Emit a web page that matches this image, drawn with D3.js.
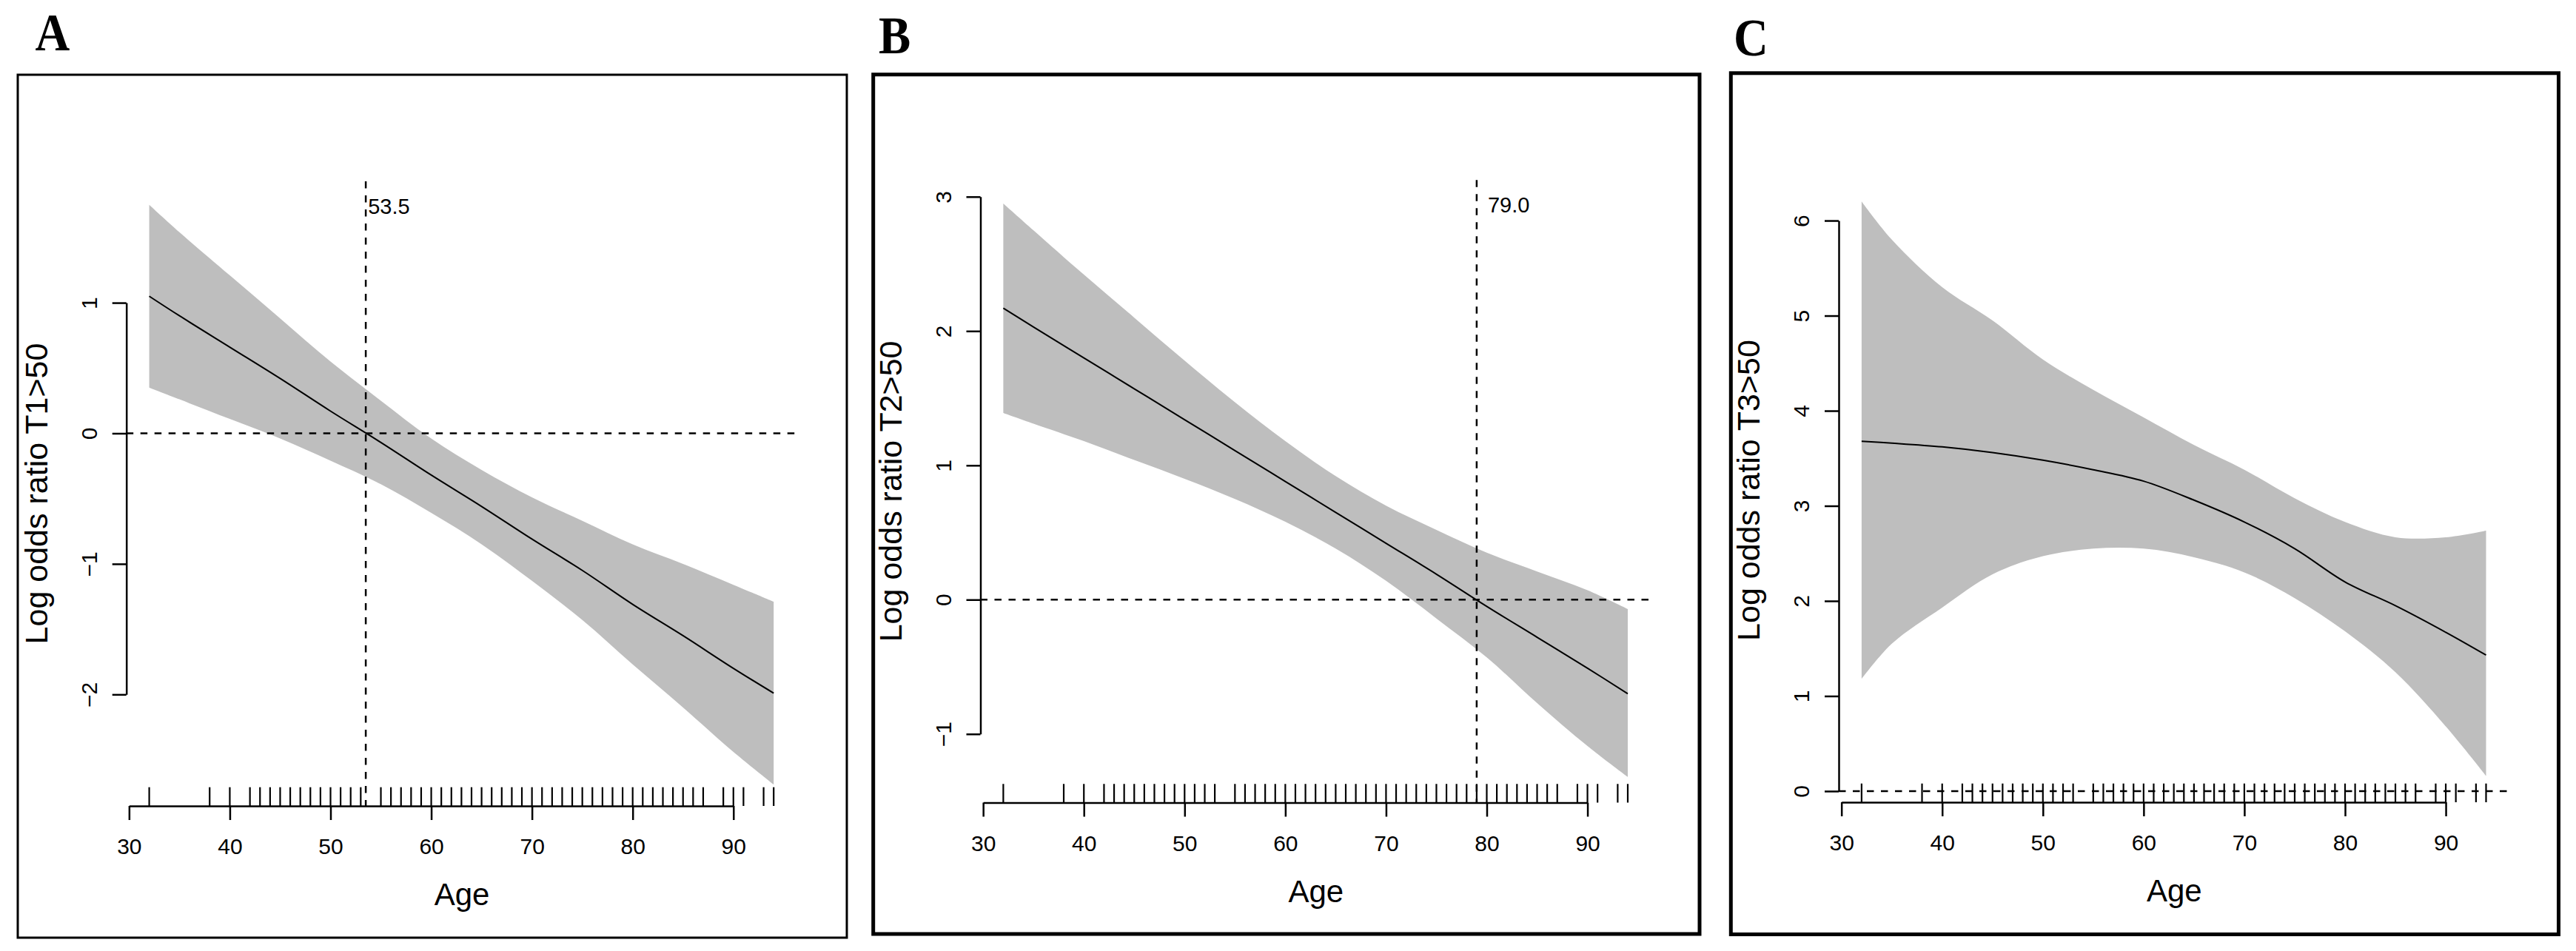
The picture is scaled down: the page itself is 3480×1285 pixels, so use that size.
<!DOCTYPE html>
<html>
<head>
<meta charset="utf-8">
<script src="https://cdn.jsdelivr.net/npm/d3@7"></script>
<style>
  body { margin: 0; background: #fff; }
  svg text { font-family: "Liberation Sans", Arial, sans-serif; fill: #000; }
  .panelLetter { font-family: "Liberation Serif", "Times New Roman", serif; font-weight: bold; }
</style>
</head>
<body>
<svg id="chart" width="3480" height="1285"></svg>
<script>
const ages = [32, 35, 40, 45, 50, 55, 60, 65, 70, 75, 80, 85, 90, 94];

// A: log odds ratio T1>50
const fitT1   = [1.05, 0.90, 0.66, 0.42, 0.17, -0.07, -0.32, -0.56, -0.81, -1.05, -1.31, -1.55, -1.80, -1.99];
const upperT1 = [1.75, 1.54, 1.21, 0.88, 0.55, 0.25, -0.04, -0.28, -0.49, -0.67, -0.85, -1.00, -1.16, -1.29];
const lowerT1 = [0.35, 0.26, 0.11, -0.04, -0.21, -0.39, -0.61, -0.85, -1.13, -1.43, -1.77, -2.10, -2.44, -2.69];

// B: log odds ratio T2>50
const fitT2   = [2.17, 2.03, 1.80, 1.57, 1.34, 1.11, 0.88, 0.65, 0.42, 0.19, -0.05, -0.28, -0.51, -0.70];
const upperT2 = [2.95, 2.75, 2.42, 2.10, 1.78, 1.47, 1.18, 0.92, 0.70, 0.52, 0.35, 0.21, 0.07, -0.07];
const lowerT2 = [1.39, 1.31, 1.18, 1.04, 0.90, 0.75, 0.58, 0.38, 0.14, -0.14, -0.43, -0.77, -1.09, -1.32];

// C: log odds ratio T3>50
const fitT3   = [3.68, 3.66, 3.62, 3.56, 3.48, 3.38, 3.26, 3.06, 2.83, 2.55, 2.20, 1.95, 1.67, 1.43];
const upperT3 = [6.20, 5.80, 5.30, 4.95, 4.54, 4.22, 3.93, 3.64, 3.38, 3.08, 2.83, 2.67, 2.67, 2.74];
const lowerT3 = [1.18, 1.55, 1.93, 2.28, 2.47, 2.55, 2.55, 2.46, 2.30, 2.03, 1.68, 1.25, 0.68, 0.16];

// observed ages (rug)
const rugAges = [32, 38, 40, 42, 43, 44, 45, 46, 47, 48, 49, 50, 51, 52, 53,
  55, 56, 57, 58, 59, 60, 61, 62, 63, 64, 65, 66, 67, 68, 69, 70, 71, 72, 73, 74,
  75, 76, 77, 78, 79, 80, 81, 82, 83, 84, 85, 86, 87, 89, 90, 91, 93, 94];

const xTicks = [30, 40, 50, 60, 70, 80, 90];
const yTicksT1 = [-2, -1, 0, 1];
const yTicksT2 = [-1, 0, 1, 2, 3];
const yTicksT3 = [0, 1, 2, 3, 4, 5, 6];

const cutT1 = 53.5;
const cutT2 = 79.0;

// layout (pixels)
const xLim = [29.73, 96.36];
const plotWidth = 906.6;

const panels = [
  {letter: "A", title: "Log odds ratio T1>50", fit: fitT1, upper: upperT1, lower: lowerT1,
   yTicks: yTicksT1, cut: cutT1, cutDx: 3, cutY: 289,
   box: [24, 101, 1144, 1267], border: 3, left: 170.7, top: 245, bottom: 1089,
   yLim: [-2.854, 1.930], letterAt: [47.5, 68]},
  {letter: "B", title: "Log odds ratio T2>50", fit: fitT2, upper: upperT2, lower: lowerT2,
   yTicks: yTicksT2, cut: cutT2, cutDx: 15, cutY: 287,
   box: [1179.7, 100.7, 2296, 1262], border: 5, left: 1324.5, top: 243.3, bottom: 1084.5,
   yLim: [-1.511, 3.124], letterAt: [1187, 71.5]},
  {letter: "C", title: "Log odds ratio T3>50", fit: fitT3, upper: upperT3, lower: lowerT3,
   yTicks: yTicksT3, cut: null,
   box: [2338.3, 98.8, 3456.5, 1262.5], border: 5, left: 2484, top: 241, bottom: 1084,
   yLim: [-0.117, 6.444], letterAt: [2342, 75]}
];

const svg = d3.select("#chart");
const smooth = d3.curveCatmullRom.alpha(0.5);

function styleAxis(sel) {
  sel.attr("font-family", null).attr("font-size", null);
  sel.select(".domain").attr("stroke", "#000").attr("stroke-width", 2.5);
  sel.selectAll(".tick line").attr("stroke", "#000").attr("stroke-width", 2.5);
  sel.selectAll(".tick text").attr("font-size", 30).attr("fill", "#000");
}

function drawPanel(p) {
  let g = svg.append("g");

  let x = d3.scaleLinear().domain(xLim).range([p.left, p.left + plotWidth]);
  let y = d3.scaleLinear().domain(p.yLim).range([p.bottom, p.top]);

  let rows = ages.map((a, i) => ({age: a, fit: p.fit[i], lo: p.lower[i], hi: p.upper[i]}));

  // confidence band
  g.append("path")
    .datum(rows)
    .attr("d", d3.area().x(d => x(d.age)).y0(d => y(d.lo)).y1(d => y(d.hi)).curve(smooth))
    .attr("fill", "#bebebe");

  // fitted curve
  g.append("path")
    .datum(rows)
    .attr("d", d3.line().x(d => x(d.age)).y(d => y(d.fit)).curve(smooth))
    .attr("fill", "none")
    .attr("stroke", "#000")
    .attr("stroke-width", 2);

  // reference line at 0
  g.append("line")
    .attr("x1", p.left).attr("x2", p.left + plotWidth)
    .attr("y1", y(0)).attr("y2", y(0))
    .attr("stroke", "#000").attr("stroke-width", 2.5)
    .attr("stroke-dasharray", "9.5,9.5");

  // cut-off age
  if (p.cut != null) {
    g.append("line")
      .attr("x1", x(p.cut)).attr("x2", x(p.cut))
      .attr("y1", p.top).attr("y2", p.bottom)
      .attr("stroke", "#000").attr("stroke-width", 2.5)
      .attr("stroke-dasharray", "9.5,9.5");
    g.append("text")
      .attr("x", x(p.cut) + p.cutDx)
      .attr("y", p.cutY)
      .attr("font-size", 29)
      .text(d3.format(".1f")(p.cut));
  }

  // rug
  let rugLen = 0.03 * (p.bottom - p.top);
  g.selectAll("line.rug")
    .data(rugAges)
    .join("line")
    .attr("class", "rug")
    .attr("x1", d => x(d)).attr("x2", d => x(d))
    .attr("y1", p.bottom).attr("y2", p.bottom - rugLen)
    .attr("stroke", "#000").attr("stroke-width", 2.2);

  // x axis (spans first to last tick, like base R)
  let xa = d3.scaleLinear().domain([30, 90]).range([x(30), x(90)]);
  g.append("g")
    .attr("transform", `translate(0,${p.bottom})`)
    .call(d3.axisBottom(xa).tickValues(xTicks).tickSize(19).tickSizeOuter(0).tickPadding(25).tickFormat(d3.format("d")))
    .call(styleAxis);

  // y axis
  let yMin = d3.min(p.yTicks), yMax = d3.max(p.yTicks);
  let ya = d3.scaleLinear().domain([yMin, yMax]).range([y(yMin), y(yMax)]);
  g.append("g")
    .attr("transform", `translate(${p.left},0)`)
    .call(d3.axisLeft(ya).tickValues(p.yTicks).tickSize(19).tickSizeOuter(0).tickFormat(d3.format("d")))
    .call(styleAxis)
    .selectAll(".tick text")
      .attr("x", 0).attr("y", 0).attr("dy", 0)
      .attr("text-anchor", "middle")
      .attr("transform", "translate(-40,0) rotate(-90)");

  // axis titles
  g.append("text")
    .attr("x", p.left + plotWidth / 2)
    .attr("y", p.bottom + 134)
    .attr("text-anchor", "middle")
    .attr("font-size", 42)
    .text("Age");

  g.append("text")
    .attr("transform", `translate(${p.left - 107},${(p.top + p.bottom) / 2}) rotate(-90)`)
    .attr("text-anchor", "middle")
    .attr("font-size", 43)
    .text(p.title);

  // frame
  g.append("rect")
    .attr("x", p.box[0]).attr("y", p.box[1])
    .attr("width", p.box[2] - p.box[0]).attr("height", p.box[3] - p.box[1])
    .attr("fill", "none").attr("stroke", "#000").attr("stroke-width", p.border);

  // panel letter
  g.append("text")
    .attr("class", "panelLetter")
    .attr("transform", `translate(${p.letterAt[0]},${p.letterAt[1]}) scale(0.9,1)`)
    .attr("font-size", 72)
    .text(p.letter);
}

panels.forEach(drawPanel);
</script>
</body>
</html>
